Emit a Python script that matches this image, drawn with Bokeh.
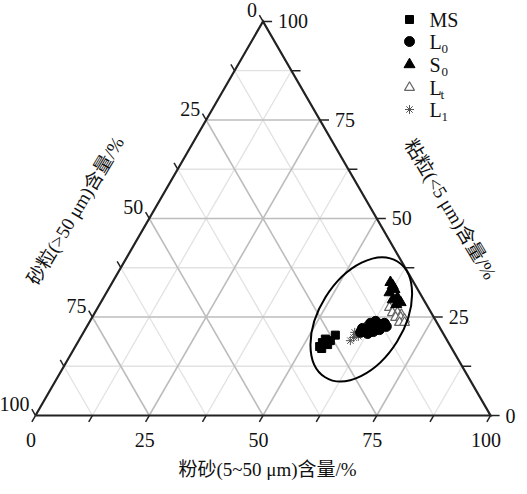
import numpy as np
from bokeh.plotting import figure
from bokeh.models import Range1d
from bokeh.embed import file_html
from bokeh.resources import INLINE
from bokeh.core.properties import value

# ---------------- data (silt %, clay %) ----------------
ms_silt = [55.7, 54.0, 53.8, 53.7, 55.2, 55.3, 54.4]
ms_clay = [20.4, 19.4, 18.5, 17.5, 18.0, 19.0, 17.0]

l1_silt = [59.7, 60.0, 60.25, 60.55, 60.8, 59.6, 60.9, 61.0]
l1_clay = [19.0, 19.8, 20.6, 21.3, 22.1, 21.1, 20.1, 22.6]

l0_silt = [60.9, 61.5, 62.1, 62.8, 63.5, 64.3, 65.0, 62.6, 63.6, 64.7, 61.9, 62.8, 65.8, 60.8]
l0_clay = [21.1, 21.6, 22.1, 22.6, 22.8, 23.1, 23.4, 20.8, 21.3, 21.8, 23.4, 23.9, 22.6, 22.1]

s0_silt = [61.1, 62.9, 62.2, 64.6, 63.8, 65.2, 65.9, 62.0]
s0_clay = [33.8, 32.0, 31.2, 29.9, 29.4, 28.2, 28.7, 33.0]

lt_silt = [64.1, 65.2, 65.4, 66.5, 67.6, 66.7, 67.8, 68.9, 68.2, 69.3]
lt_clay = [27.4, 27.4, 26.1, 26.1, 25.6, 24.9, 24.9, 24.4, 23.6, 23.6]

major_ticks = [0, 25, 50, 75, 100]
minor_ticks = [12.5, 37.5, 62.5, 87.5]
tick_labels = ["0", "25", "50", "75", "100"]

legend_names = ["MS", "L", "S", "L", "L"]
legend_subs = ["", "0", "0", "t", "1"]

title_bottom = "粉砂(5~50 μm)含量/%"
title_left = "砂粒(>50 μm)含量/%"
title_right = "粘粒(<5 μm)含量/%"

# ellipse around the cluster (silt, clay centre; axes in % units)
ell_silt, ell_clay = 59.4, 24.4
ell_a, ell_b, ell_angle = 30.0, 18.5, 58.0

# ---------------- helpers ----------------
H = np.sqrt(3) / 2
PX = 4.55  # px per unit


def tx(silt, clay):
    return np.asarray(silt, float) + np.asarray(clay, float) / 2


def ty(clay):
    return np.asarray(clay, float) * H


def pg(px, py):
    # page pixel -> data coordinates (layout only)
    return (px - 43) / PX, (423 - py) / PX


SERIF = "Liberation Serif"
CJK = "Liberation Serif, Noto Sans CJK SC"

p = figure(width=519, height=486, output_backend="svg", toolbar_location=None,
           x_axis_type=None, y_axis_type=None, min_border=0,
           x_range=Range1d(-7.69, 106.37), y_range=Range1d(-15.60, 91.21))
p.outline_line_color = None
p.xgrid.visible = False
p.ygrid.visible = False
p.background_fill_color = "white"

# grid lines
def grid(vals, color, width):
    xs, ys = [], []
    for v in vals:
        # constant clay
        xs.append([tx(0, v), tx(100 - v, v)]); ys.append([ty(v), ty(v)])
        # constant silt
        xs.append([tx(v, 0), tx(v, 100 - v)]); ys.append([ty(0), ty(100 - v)])
        # constant sand
        xs.append([tx(100 - v, 0), tx(0, 100 - v)]); ys.append([ty(0), ty(100 - v)])
    p.multi_line(xs, ys, line_color=color, line_width=width)

grid(minor_ticks, "#e2e2e2", 1.3)
grid(major_ticks[1:-1], "#bdbdbd", 1.6)

# ticks
t = 1.6
txs, tys = [], []
for v in major_ticks + minor_ticks:
    # bottom (silt)
    txs.append([tx(v, 0), tx(v, -t)]); tys.append([ty(0), ty(-t)])
    # right (clay)
    txs.append([tx(100 - v, v), tx(100 - v + 2.0, v)]); tys.append([ty(v), ty(v)])
    # left (sand)
    txs.append([tx(0, 100 - v), tx(-t, 100 - v + t)]); tys.append([ty(100 - v), ty(100 - v + t)])
p.multi_line(txs, tys, line_color="#222222", line_width=1.5)

# triangle outline
p.line([tx(0, 0), tx(100, 0), tx(0, 100), tx(0, 0)],
       [ty(0), ty(0), ty(100), ty(0)], line_color="#222222", line_width=2.2,
       line_join="miter")

# tick labels
fs = "20px"
bx = [tx(v, 0) - 1.0 for v in major_ticks]
by = [-5.3] * len(major_ticks)
p.text(bx, by, text=tick_labels, text_align="center", text_baseline="middle",
       text_font=value(SERIF), text_font_size=fs, text_color="#111111")
rx = [tx(100 - v, v) + 3.3 for v in major_ticks]
ry = [ty(v) for v in major_ticks]
p.text(rx, ry, text=tick_labels, text_align="left", text_baseline="middle",
       text_font=value(SERIF), text_font_size=fs, text_color="#111111")
lx = [tx(0, 100 - v) - 1.3 for v in major_ticks]
ly = [ty(100 - v) + 2.5 for v in major_ticks]
p.text(lx, ly, text=tick_labels, text_align="right", text_baseline="middle",
       text_font=value(SERIF), text_font_size=fs, text_color="#111111")

# axis titles
p.text([51.0], [-11.9], text=[title_bottom], text_align="center", text_baseline="middle",
       text_font=value(CJK), text_font_size="19px", text_color="#111111")
p.text([8.8], [45.0], text=[title_left], text_align="center", text_baseline="middle",
       angle=np.deg2rad(59), text_font=value(CJK), text_font_size="19px", text_color="#111111")
p.text([91.2], [45.3], text=[title_right], text_align="center", text_baseline="middle",
       angle=np.deg2rad(-59), text_font=value(CJK), text_font_size="19px", text_color="#111111")

# data points
p.scatter(tx(ms_silt, ms_clay), ty(ms_clay), marker="square", size=8,
          fill_color="black", line_color="black")
p.scatter(tx(l1_silt, l1_clay), ty(l1_clay), marker="asterisk", size=9,
          line_color="#555555", line_width=1)
p.scatter(tx(l0_silt, l0_clay), ty(l0_clay), marker="circle", size=10,
          fill_color="black", line_color="black")
p.scatter(tx(lt_silt, lt_clay), ty(lt_clay), marker="triangle", size=10,
          fill_color="white", line_color="#666666", line_width=1.2)
p.scatter(tx(s0_silt, s0_clay), ty(s0_clay), marker="triangle", size=11,
          fill_color="black", line_color="black")

# ellipse
p.ellipse(x=[float(tx(ell_silt, ell_clay))], y=[float(ty(ell_clay))],
          width=ell_a, height=ell_b, angle=np.deg2rad(ell_angle),
          fill_color=None, line_color="black", line_width=2)

# legend (manual)
leg_py = [27, 49, 72, 95, 117]
mx, my = zip(*[pg(417, y) for y in leg_py])
p.scatter([mx[0]], [my[0]], marker="square", size=8, fill_color="black", line_color="black")
p.scatter([mx[1]], [my[1]], marker="circle", size=10, fill_color="black", line_color="black")
p.scatter([mx[2]], [my[2]], marker="triangle", size=11, fill_color="black", line_color="black")
p.scatter([mx[3]], [my[3]], marker="triangle", size=10, fill_color="white", line_color="#666666", line_width=1.2)
p.scatter([mx[4]], [my[4]], marker="asterisk", size=9, line_color="#555555")
tx0 = pg(437, 0)[0]
p.text([tx0] * 5, list(my), text=legend_names, text_align="left", text_baseline="middle",
       text_font=value(SERIF), text_font_size="20px", text_color="#111111")
sub_x = [pg(449, 0)[0], pg(449, 0)[0], pg(448, 0)[0], pg(449, 0)[0]]
sub_y = [pg(0, y + 7)[1] for y in leg_py[1:]]
p.text(sub_x, sub_y, text=legend_subs[1:], text_align="left", text_baseline="middle",
       text_font=value(SERIF), text_font_size="13px", text_color="#111111")

open("out.html", "w").write(file_html(p, INLINE))
